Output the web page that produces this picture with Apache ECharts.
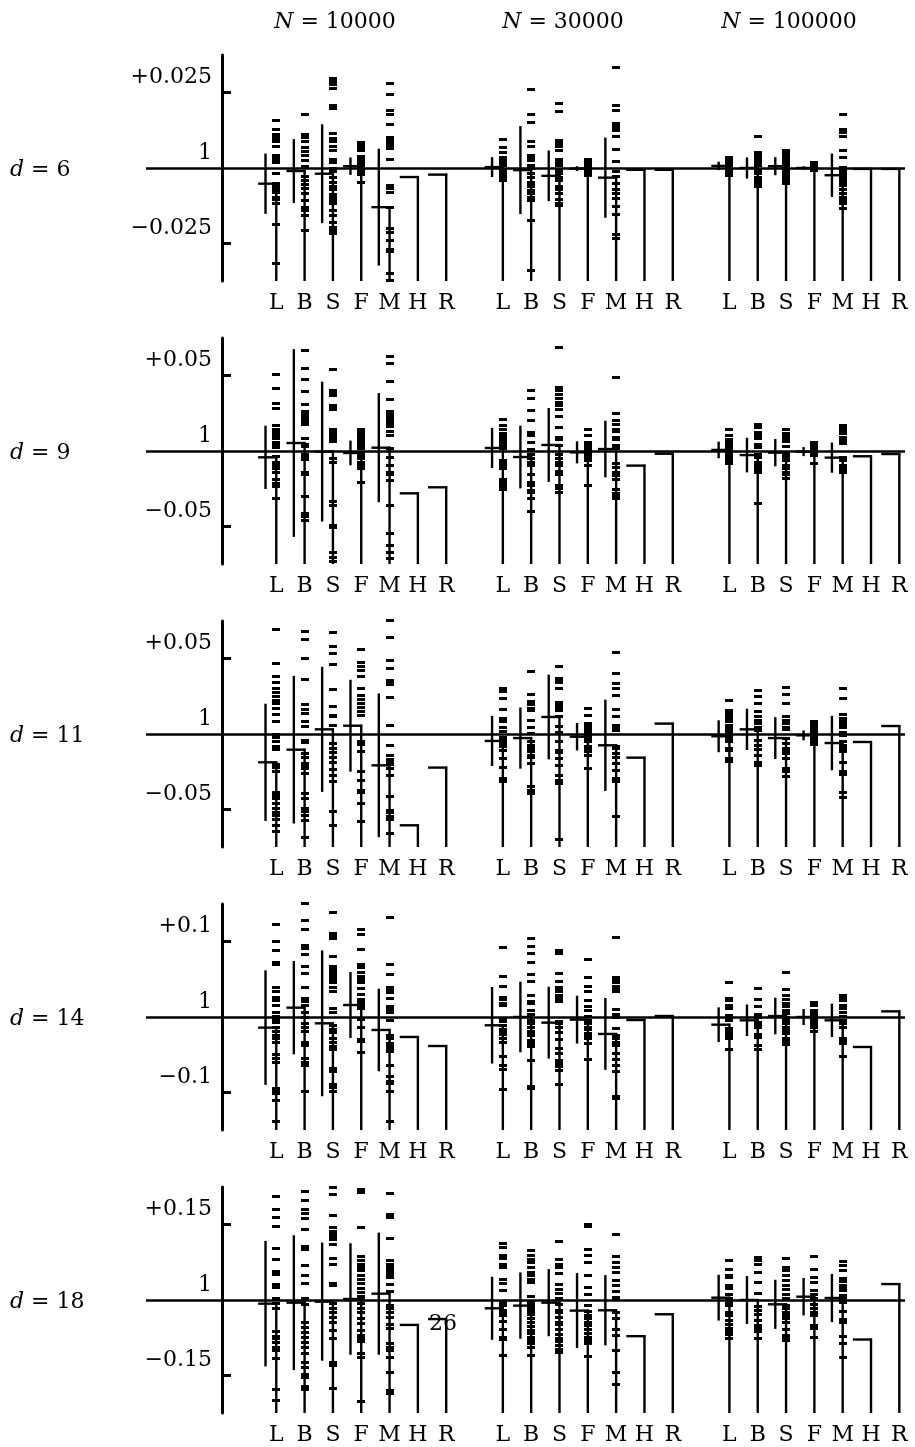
<!DOCTYPE html>
<html>
<head>
<meta charset="utf-8">
<script src="https://cdn.jsdelivr.net/npm/echarts@6/dist/echarts.min.js"></script>
<style>
  html, body { margin: 0; padding: 0; background: #fff; }
  #chart { width: 915px; height: 1447px; }
</style>
</head>
<body>
<div id="chart"></div>
<script>
// methods along each group, sample sizes (column groups), dimensions (rows)
const METHODS = ['L', 'B', 'S', 'F', 'M', 'H', 'R'];
const SAMPLE_SIZES = ['10000', '30000', '100000'];
const DIMS = [6, 9, 11, 14, 18];
const TICK_STEP = [0.025, 0.05, 0.05, 0.1, 0.15];
const TICK_TEXT = ['0.025', '0.05', '0.05', '0.1', '0.15'];

// mean / error half-width per group (N) and method, one block per d
const mean6 = [
  [-0.0052, -0.001, -0.0019, 0.0006, -0.013, -0.003, -0.0022],
  [0.0003, -0.0007, -0.0026, -0.0002, -0.0032, -0.0006, -0.0006],
  [0.0007, 0, 0.0006, 0, -0.0024, -0.0003, -0.0003]
];
const err6 = [
  [0.01, 0.0106, 0.0164, 0.0029, 0.0194, 0, 0],
  [0.0033, 0.0146, 0.0084, 0.0008, 0.0133, 0, 0],
  [0.0014, 0.0035, 0.003, 0.0006, 0.0072, 0, 0]
];
const pts6 = [
  [
    [0.0159, 0.0128, 0.0111, 0.0103, 0.0094, 0.0087, 0.0072, 0.0042, 0.0034, 0.0026, 0.0018, -0.0019, -0.005, -0.0063, -0.0072, -0.008, -0.0097, -0.0105, -0.0119, -0.0189, -0.0317],
    [0.0179, 0.0111, 0.01, 0.0087, 0.0068, 0.0056, 0.0042, 0.0026, 0.0006, -0.0028, -0.0041, -0.0054, -0.0069, -0.0083, -0.0108, -0.013, -0.0141, -0.0158, -0.0208],
    [0.0298, 0.0287, 0.0276, 0.0264, 0.0209, 0.0196, 0.0114, 0.0098, 0.0087, 0.0072, 0.0059, 0.0028, 0.0017, 0, -0.001, -0.003, -0.0047, -0.0061, -0.0072, -0.0088, -0.0097, -0.0108, -0.0119, -0.0141, -0.0158, -0.018, -0.0197, -0.0208, -0.0219],
    [0.0083, 0.0076, 0.0068, 0.0059, 0.0037, 0.0028, 0.002, 0.0012, 0.0003, -0.0006, -0.0013, -0.0021, -0.0047],
    [0.0281, 0.0244, 0.0192, 0.0179, 0.0144, 0.0101, 0.0092, 0.0083, 0.0076, 0.0064, 0.0028, -0.0058, -0.0069, -0.008, -0.013, -0.0202, -0.0213, -0.0239, -0.0269, -0.0277, -0.035, -0.0372],
    [], []
  ],
  [
    [0.0096, 0.0068, 0.0053, 0.0034, 0.0026, 0.0017, 0.0009, -0.0008, -0.0017, -0.0024, -0.0032, -0.0041],
    [0.0262, 0.0176, 0.0151, 0.0087, 0.007, 0.0042, 0.0034, 0.0026, 0.0009, -0.0002, -0.0019, -0.0032, -0.0047, -0.0054, -0.0063, -0.0074, -0.0086, -0.0097, -0.0108, -0.0174, -0.0341],
    [0.0214, 0.0187, 0.009, 0.0081, 0.0072, 0.0059, 0.0028, 0.0017, 0.0009, -0.0008, -0.0019, -0.003, -0.0041, -0.0063, -0.0072, -0.0083, -0.0106, -0.0119, -0.0124],
    [0.0028, 0.002, 0.0012, 0.0003, -0.0008, -0.0017, -0.0024],
    [0.0334, 0.0207, 0.019, 0.0148, 0.0139, 0.0131, 0.0123, 0.0103, 0.0061, 0.002, -0.001, -0.0028, -0.005, -0.0072, -0.0086, -0.0102, -0.0128, -0.0154, -0.0221, -0.0235],
    [], []
  ],
  [
    [0.0034, 0.0026, 0.0017, 0.0009, 0, -0.0008, -0.0017, -0.0024],
    [0.0103, 0.0053, 0.0042, 0.0034, 0.0026, 0.0017, 0.0009, -0.0008, -0.0017, -0.0032, -0.0041, -0.005, -0.0061],
    [0.0057, 0.0048, 0.0039, 0.0031, 0.0023, 0.0014, 0.0006, -0.0002, -0.001, -0.0019, -0.0028, -0.0036, -0.0043, -0.0052],
    [0.0017, 0.0009, 0, -0.0008],
    [0.0176, 0.0128, 0.0117, 0.0103, 0.0059, 0.0034, 0.0003, -0.0008, -0.0017, -0.0024, -0.0032, -0.0041, -0.005, -0.0058, -0.0072, -0.0086, -0.0097, -0.0108, -0.0119, -0.0136],
    [], []
  ]
];

const mean9 = [
  [-0.0042, 0.0053, -0.0004, -0.0013, 0.0022, -0.0281, -0.0241],
  [0.002, -0.004, 0.004, -0.0009, 0.0013, -0.0097, -0.0018],
  [0.0007, -0.0027, -0.0011, -0.0004, -0.0044, -0.0035, -0.002]
];
const err9 = [
  [0.021, 0.0623, 0.0464, 0.0082, 0.0362, 0, 0],
  [0.0133, 0.0208, 0.0245, 0.0073, 0.0188, 0, 0],
  [0.0055, 0.0115, 0.0091, 0.003, 0.01, 0, 0]
];
const pts9 = [
  [
    [0.0506, 0.0418, 0.0312, 0.0285, 0.0168, 0.0146, 0.0128, 0.0113, 0.0097, 0.008, 0.0057, 0.004, 0.0022, -0.0035, -0.0075, -0.0097, -0.0119, -0.0141, -0.0186, -0.0219, -0.0234, -0.0314],
    [0.0665, 0.0548, 0.0473, 0.0396, 0.0307, 0.0261, 0.0245, 0.023, 0.0212, 0.0197, 0.0179, 0.008, 0.0046, 0.0031, -0.002, -0.0042, -0.0057, -0.0141, -0.0157, -0.0301, -0.0418, -0.0433, -0.0462],
    [0.0544, 0.0404, 0.0389, 0.0371, 0.0305, 0.029, 0.0274, 0.0141, 0.0124, 0.0106, 0.008, 0.0062, -0.0053, -0.0075, -0.0336, -0.0362, -0.0495, -0.0506, -0.0672, -0.0705, -0.0734],
    [0.0141, 0.0124, 0.0106, 0.0088, 0.0071, 0.0053, 0.0035, 0.0018, -0.0018, -0.0035, -0.0053, -0.0075, -0.0097, -0.0119, -0.0208],
    [0.0628, 0.0583, 0.046, 0.034, 0.0261, 0.0245, 0.023, 0.0212, 0.0197, 0.0179, 0.0164, 0.0128, 0.0102, 0.0018, -0.0042, -0.0097, -0.0141, -0.0159, -0.0197, -0.0362, -0.055, -0.0628, -0.0672, -0.0716],
    [], []
  ],
  [
    [0.0212, 0.0168, 0.0141, 0.0119, 0.0097, 0.0075, 0.0057, 0.0035, 0.0018, -0.0064, -0.008, -0.0097, -0.0119, -0.0186, -0.0208, -0.0225, -0.0241, -0.0256],
    [0.0404, 0.0351, 0.0267, 0.0201, 0.0124, 0.0102, 0.0057, 0.0009, -0.002, -0.0053, -0.0075, -0.0097, -0.0159, -0.0208, -0.023, -0.0263, -0.0274, -0.0318, -0.04],
    [0.0687, 0.0422, 0.04, 0.0378, 0.0349, 0.0323, 0.0301, 0.0278, 0.0228, 0.0157, 0.0091, 0.0075, 0.0035, -0.002, -0.0049, -0.0075, -0.0097, -0.0137, -0.0159, -0.023, -0.0252, -0.0274],
    [0.0141, 0.0106, 0.0057, 0.004, 0.0022, 0.0004, -0.0013, -0.0031, -0.0049, -0.0064, -0.0093, -0.023],
    [0.0488, 0.025, 0.0201, 0.0179, 0.0146, 0.0128, 0.0091, 0.0075, 0.0035, 0.0018, -0.0086, -0.0108, -0.0141, -0.0164, -0.0186, -0.0256, -0.0285, -0.0301, -0.0318],
    [], []
  ],
  [
    [0.0146, 0.0102, 0.0075, 0.0057, 0.004, 0.0022, 0.0004, -0.0013, -0.0031, -0.0049, -0.0064, -0.008],
    [0.0175, 0.0157, 0.0124, 0.0102, 0.008, 0.0046, 0.0024, -0.002, -0.0042, -0.0075, -0.0093, -0.0108, -0.0124, -0.0141, -0.0347],
    [0.0146, 0.0113, 0.0097, 0.008, 0.0062, 0.0031, -0.0009, -0.0031, -0.0053, -0.0064, -0.0097, -0.0119, -0.0141, -0.0159, -0.0181],
    [0.0057, 0.004, 0.0022, 0.0004, -0.0013, -0.0031, -0.008],
    [0.0168, 0.015, 0.0135, 0.0113, 0.0091, 0.0069, 0.0053, -0.0042, -0.0064, -0.0097, -0.0115, -0.013, -0.0146],
    [], []
  ]
];

const mean11 = [
  [-0.0188, -0.0104, 0.0031, 0.0055, -0.0208, -0.0606, -0.0223],
  [-0.0046, -0.0027, 0.0113, -0.0018, -0.0075, -0.0157, 0.0069],
  [-0.0015, 0.0031, -0.0027, -0.0009, -0.006, -0.0053, 0.0053]
];
const err11 = [
  [0.0389, 0.049, 0.0415, 0.0305, 0.0477, 0, 0],
  [0.0166, 0.0203, 0.0281, 0.0091, 0.0303, 0, 0],
  [0.0106, 0.0137, 0.0139, 0.0033, 0.0181, 0, 0]
];
const pts11 = [
  [
    [0.0694, 0.0466, 0.0382, 0.034, 0.0305, 0.0278, 0.0252, 0.0223, 0.0201, 0.0172, 0.0128, 0.008, -0.0004, -0.002, -0.0053, -0.008, -0.0102, -0.0203, -0.0225, -0.0248, -0.0389, -0.0407, -0.0429, -0.0462, -0.0495, -0.0522, -0.0544, -0.0566, -0.0606, -0.065],
    [0.0681, 0.0628, 0.0499, 0.036, 0.0194, 0.0164, 0.0135, 0.008, 0.0053, -0.0042, -0.0057, -0.013, -0.0159, -0.0197, -0.0212, -0.023, -0.0263, -0.0396, -0.0429, -0.0495, -0.0517, -0.0544, -0.0572, -0.069],
    [0.0672, 0.0583, 0.0533, 0.046, 0.0294, 0.0183, 0.0124, 0.0113, 0.0057, -0.0064, -0.0097, -0.0124, -0.0159, -0.019, -0.0234, -0.0274, -0.0314, -0.0517, -0.0606],
    [0.0561, 0.0473, 0.0451, 0.0422, 0.0382, 0.0305, 0.0256, 0.023, 0.0201, 0.0179, 0.015, 0.0124, -0.0053, -0.0071, -0.0119, -0.0248, -0.0307, -0.0373, -0.0385, -0.0462, -0.0583],
    [0.0754, 0.0639, 0.0488, 0.0433, 0.0356, 0.034, 0.0327, 0.0245, 0.0057, -0.0075, -0.0141, -0.0168, -0.019, -0.0203, -0.023, -0.0274, -0.0418, -0.0506, -0.0522, -0.055, -0.0566, -0.0661],
    [], []
  ],
  [
    [0.0301, 0.0283, 0.0234, 0.0161, 0.0102, 0.008, 0.0046, 0.0018, -0.002, -0.0042, -0.0064, -0.0086, -0.0108, -0.0164, -0.0225, -0.0296, -0.0314],
    [0.0415, 0.0261, 0.0217, 0.0194, 0.0172, 0.0157, 0.0091, 0.0046, 0.0002, -0.0053, -0.0075, -0.0097, -0.0119, -0.0141, -0.0159, -0.0197, -0.0351, -0.0373, -0.0396],
    [0.0449, 0.0371, 0.0356, 0.034, 0.0305, 0.0208, 0.019, 0.0172, 0.0157, 0.0113, 0.0053, 0.0013, -0.0049, -0.0108, -0.0124, -0.0164, -0.0212, -0.0278, -0.0307, -0.0329, -0.0698],
    [0.0172, 0.0124, 0.0069, 0.0053, 0.0035, 0.0018, -0.0004, -0.002, -0.0038, -0.0053, -0.008, -0.0097, -0.0115, -0.0146, -0.023],
    [0.0544, 0.04, 0.0334, 0.0301, 0.0256, 0.0164, 0.0119, 0.0057, 0.004, 0.0022, -0.008, -0.0097, -0.013, -0.0159, -0.0197, -0.0241, -0.0296, -0.0318, -0.055],
    [], []
  ],
  [
    [0.0223, 0.0157, 0.0141, 0.0124, 0.0106, 0.0084, 0.0057, 0.0035, 0.0018, -0.0004, -0.002, -0.0035, -0.0053, -0.0093, -0.0108, -0.0164, -0.0181],
    [0.029, 0.0252, 0.0201, 0.015, 0.0113, 0.0091, 0.0069, 0.004, 0.0024, -0.0042, -0.0075, -0.0102, -0.0146, -0.019, -0.0212],
    [0.0307, 0.0261, 0.0201, 0.0119, 0.0091, 0.0069, 0.0046, 0.0031, -0.0031, -0.0064, -0.0097, -0.0115, -0.013, -0.0164, -0.023, -0.0248, -0.0285],
    [0.008, 0.0062, 0.0046, 0.0031, 0.0013, -0.0004, -0.002, -0.0035, -0.0053, -0.0071],
    [0.0301, 0.0234, 0.0128, 0.0106, 0.008, 0.0062, 0.0044, 0.0013, -0.0013, -0.0053, -0.0075, -0.0097, -0.0115, -0.0186, -0.0252, -0.027, -0.0385, -0.0424],
    [], []
  ]
];

const mean14 = [
  [-0.0141, 0.0124, -0.0084, 0.0159, -0.0172, -0.0265, -0.0385],
  [-0.011, 0, -0.0075, -0.0035, -0.0225, -0.004, 0.0013],
  [-0.0102, -0.0044, 0.0013, 0, -0.0044, -0.0398, 0.0075]
];
const err14 = [
  [0.076, 0.0619, 0.0968, 0.0438, 0.0548, 0, 0],
  [0.0508, 0.0469, 0.0477, 0.0318, 0.0477, 0, 0],
  [0.023, 0.021, 0.0243, 0.0106, 0.0221, 0, 0]
];
const pts14 = [
  [
    [0.1224, 0.1003, 0.0884, 0.072, 0.0694, 0.0385, 0.0332, 0.0265, 0.0221, 0.0155, 0.0066, 0.0013, -0.0031, -0.0075, -0.0146, -0.0199, -0.0243, -0.0287, -0.034, -0.0499, -0.0553, -0.0606, -0.095, -0.0986, -0.1017, -0.1105, -0.1383],
    [0.1503, 0.1282, 0.1162, 0.095, 0.0915, 0.0827, 0.0676, 0.0575, 0.0398, 0.0243, 0.0208, 0.0155, 0.0057, -0.0013, -0.0088, -0.0146, -0.019, -0.034, -0.0376, -0.0553, -0.0606, -0.0641, -0.0995],
    [0.1383, 0.1105, 0.1074, 0.1039, 0.0809, 0.0676, 0.0641, 0.0606, 0.0575, 0.0544, 0.05, 0.0464, 0.0398, 0.034, 0.0119, 0.0057, -0.0119, -0.0164, -0.0208, -0.0279, -0.034, -0.0385, -0.0429, -0.0685, -0.0729, -0.0897, -0.0941, -0.0986],
    [0.1162, 0.1092, 0.0897, 0.0694, 0.0663, 0.0597, 0.0544, 0.05, 0.0455, 0.0376, 0.0296, 0.0234, 0.0199, 0.0155, 0.0119, -0.0031, -0.0133, -0.0296, -0.0323, -0.0473],
    [0.1326, 0.0694, 0.0561, 0.0398, 0.0354, 0.0323, 0.0243, 0.0133, 0.0102, 0.0066, -0.0044, -0.0243, -0.0287, -0.0354, -0.0385, -0.042, -0.0455, -0.065, -0.0796, -0.0853, -0.0884, -0.0995, -0.1392],
    [], []
  ],
  [
    [0.0928, 0.0544, 0.0411, 0.0265, 0.0234, 0.0177, 0.0155, -0.0022, -0.0057, -0.011, -0.0164, -0.0199, -0.0234, -0.0287, -0.0332, -0.053, -0.065, -0.0694, -0.0964],
    [0.1039, 0.0941, 0.084, 0.072, 0.0561, 0.0473, 0.0287, 0.0208, 0.0177, 0.0088, 0.0031, -0.0044, -0.0088, -0.0133, -0.019, -0.0221, -0.0252, -0.0309, -0.0354, -0.0385, -0.0575, -0.0928, -0.095],
    [0.0884, 0.084, 0.0583, 0.0473, 0.0398, 0.0367, 0.0332, 0.0287, 0.0252, 0.0208, -0.0057, -0.0088, -0.0133, -0.0208, -0.0296, -0.042, -0.0486, -0.0575, -0.0619, -0.0663, -0.0707, -0.0897],
    [0.076, 0.053, 0.0411, 0.034, 0.0221, 0.0133, 0.0088, 0.0013, -0.0044, -0.0088, -0.0133, -0.0164, -0.0221, -0.0252, -0.0287, -0.0354, -0.0561],
    [0.1052, 0.053, 0.0499, 0.0464, 0.0411, 0.0367, 0.0332, 0.0102, 0.0031, -0.0013, -0.0155, -0.0243, -0.0287, -0.034, -0.0376, -0.0486, -0.0561, -0.0641, -0.0729, -0.1061, -0.1083],
    [], []
  ],
  [
    [0.0455, 0.0252, 0.0221, 0.0155, 0.0119, 0.0022, -0.0013, -0.0044, -0.0155, -0.019, -0.0221, -0.0252, -0.0287, -0.0429],
    [0.0376, 0.023, 0.0133, 0.0031, -0.0013, -0.0075, -0.011, -0.0146, -0.0234, -0.0278, -0.0376, -0.0429],
    [0.0597, 0.0367, 0.0287, 0.0234, 0.0177, 0.0133, 0.0088, 0.0044, 0, -0.0044, -0.0088, -0.0133, -0.0177, -0.0221, -0.0287, -0.0323, -0.0367],
    [0.019, 0.0155, 0.0088, 0.0057, 0.0022, -0.0013, -0.0044, -0.0075, -0.011, -0.0146, -0.0199],
    [0.0287, 0.0252, 0.0221, 0.0155, 0.0119, 0.0066, 0.0013, -0.0044, -0.0088, -0.0133, -0.0287, -0.0323, -0.0354, -0.053],
    [], []
  ]
];

const mean18 = [
  [-0.0073, -0.0053, -0.0033, 0.002, 0.0126, -0.0496, -0.038],
  [-0.0165, -0.0112, -0.0053, -0.0211, -0.0205, -0.072, -0.0284],
  [0.0046, 0, -0.0086, 0.0066, 0.004, -0.0787, 0.0317]
];
const err18 = [
  [0.125, 0.1342, 0.1176, 0.111, 0.1216, 0, 0],
  [0.0628, 0.0661, 0.0668, 0.0747, 0.07, 0, 0],
  [0.0456, 0.0476, 0.0489, 0.0373, 0.048, 0, 0]
];
const pts18 = [
  [
    [0.2056, 0.1805, 0.1639, 0.1461, 0.1025, 0.0813, 0.0562, 0.0516, 0.0317, 0.0251, 0.0033, -0.0079, -0.0178, -0.0628, -0.072, -0.0773, -0.0839, -0.0938, -0.1005, -0.1157, -0.1778, -0.1996],
    [0.2168, 0.199, 0.1805, 0.1725, 0.1619, 0.1395, 0.1064, 0.0998, 0.0694, 0.0496, 0.0337, 0.0033, -0.0099, -0.0443, -0.0542, -0.0641, -0.074, -0.0839, -0.0938, -0.1071, -0.1236, -0.1335, -0.1487, -0.1553, -0.1732, -0.1778],
    [0.2234, 0.2102, 0.1686, 0.1441, 0.1355, 0.1309, 0.1262, 0.121, 0.111, 0.0826, 0.0714, 0.0337, 0.0284, -0.0079, -0.0178, -0.0245, -0.0344, -0.0443, -0.0608, -0.0773, -0.1236, -0.1302, -0.1765],
    [0.2201, 0.2135, 0.1441, 0.0866, 0.078, 0.0714, 0.0648, 0.0582, 0.0496, 0.0403, 0.0337, 0.0231, 0.0152, 0.0073, 0.0007, -0.0079, -0.0165, -0.0245, -0.0364, -0.0476, -0.0608, -0.0707, -0.0773, -0.0826, -0.1071, -0.1137, -0.2016],
    [0.2122, 0.1705, 0.1639, 0.1223, 0.078, 0.0714, 0.0668, 0.0615, 0.0562, 0.0516, 0.0449, 0.0317, 0.0165, -0.0112, -0.0178, -0.0245, -0.0344, -0.0496, -0.0562, -0.0873, -0.0939, -0.1005, -0.1137, -0.1448, -0.1798, -0.1864],
    [], []
  ],
  [
    [0.1124, 0.1044, 0.0892, 0.0826, 0.0714, 0.0648, 0.0416, 0.0337, 0.0185, -0.0046, -0.0112, -0.0211, -0.0258, -0.0311, -0.043, -0.0588, -0.074, -0.0787, -0.1104],
    [0.0978, 0.0879, 0.0813, 0.0747, 0.0648, 0.0549, 0.0483, 0.0403, 0.035, 0.0073, -0.0059, -0.0112, -0.0165, -0.0231, -0.0297, -0.0377, -0.0443, -0.0522, -0.0608, -0.0674, -0.074, -0.0806, -0.0873, -0.0939, -0.1104],
    [0.1157, 0.08, 0.0714, 0.0648, 0.0535, 0.0317, 0.0205, 0.0139, 0.002, -0.0099, -0.0211, -0.0258, -0.0344, -0.0443, -0.0496, -0.0588, -0.0694, -0.076, -0.082, -0.0906, -0.0985, -0.1038],
    [0.1507, 0.1461, 0.1011, 0.0879, 0.0747, 0.0496, 0.0251, 0.0119, -0.0112, -0.0231, -0.0311, -0.0364, -0.0443, -0.0509, -0.0588, -0.0674, -0.074, -0.0806, -0.0873, -0.1117],
    [0.1309, 0.0859, 0.0747, 0.0648, 0.0549, 0.0383, 0.0284, 0.0165, 0.0053, 0.0007, -0.0245, -0.0377, -0.0588, -0.0707, -0.1005, -0.1448, -0.1679],
    [], []
  ],
  [
    [0.078, 0.0602, 0.0496, 0.0449, 0.0297, 0.0231, 0.0119, 0.0033, -0.0059, -0.0112, -0.0258, -0.0311, -0.041, -0.0496, -0.0562, -0.0628, -0.0694, -0.0773],
    [0.0846, 0.078, 0.0714, 0.0549, 0.035, 0.0139, -0.0126, -0.0212, -0.0297, -0.041, -0.0509, -0.0575, -0.0628, -0.0773],
    [0.0833, 0.0648, 0.0582, 0.0496, 0.0383, 0.0284, 0.0205, 0.0119, 0.002, -0.0112, -0.0178, -0.0245, -0.0311, -0.0377, -0.0443, -0.0588, -0.0707, -0.076, -0.0806],
    [0.0866, 0.0602, 0.0449, 0.035, 0.0185, 0.0119, 0.0033, -0.0099, -0.0178, -0.0245, -0.0311, -0.0509, -0.0562, -0.0754],
    [0.076, 0.0681, 0.0582, 0.043, 0.0364, 0.0297, 0.0231, 0.0185, 0.0099, 0.0033, -0.0046, -0.0231, -0.039, -0.0456, -0.0721, -0.0873, -0.1137],
    [], []
  ]
];

const MEANS = [mean6, mean9, mean11, mean14, mean18];
const ERRS = [err6, err9, err11, err14, err18];
const PTS = [pts6, pts9, pts11, pts14, pts18];

// ---- layout ----
const FONT = 'DejaVu Serif';
const FS = 22;
const ROW_TOP = 55, ROW_STEP = 283, ROW_H = 226;
const GROUP_GAP = 8;               // x units between the first method of each group
const xOf = (g, k) => g * GROUP_GAP + k;
const xTicks = [];
SAMPLE_SIZES.forEach((s, g) => METHODS.forEach((m, k) => xTicks.push(xOf(g, k))));

function renderStem(params, api) {
  const x = api.value(0), m = api.value(1), e = api.value(2);
  const cs = params.coordSys;
  const bottom = cs.y + cs.height;
  const p = api.coord([x, m]);
  const left = api.coord([x - 0.64, m]);
  const st = { stroke: '#000', lineWidth: 2.4 };
  const children = [
    { type: 'line', shape: { x1: p[0], y1: bottom, x2: p[0], y2: p[1] - 1 }, style: st },
    { type: 'line', shape: { x1: left[0], y1: p[1], x2: p[0] + 1, y2: p[1] }, style: st }
  ];
  if (e > 0) {
    const ex = api.coord([x - 0.38, m])[0];
    const top = api.coord([x, m + e])[1];
    const bot = api.coord([x, m - e])[1];
    children.push({ type: 'line', shape: { x1: ex, y1: top, x2: ex, y2: bot }, style: st });
  }
  return { type: 'group', children: children };
}

// short horizontal dash per sample, snapped to whole pixels so it stays solid black
function renderDash(params, api) {
  const p = api.coord([api.value(0), api.value(1)]);
  return {
    type: 'rect',
    shape: { x: Math.round(p[0] - 4), y: Math.round(p[1] - 1.5), width: 8, height: 3 },
    style: { fill: '#000' }
  };
}

const grids = [], xAxes = [], yAxes = [], series = [];
DIMS.forEach((d, r) => {
  const t = TICK_STEP[r];
  grids.push({ left: 146, right: 10, top: ROW_TOP + r * ROW_STEP, height: ROW_H });
  xAxes.push({
    gridIndex: r, type: 'value', min: -4.6, max: 22.2,
    axisLine: { show: false, onZero: false },
    axisTick: { show: false },
    splitLine: { show: false },
    axisLabel: {
      customValues: xTicks,
      formatter: v => METHODS[Math.round(v) % GROUP_GAP],
      margin: 11, color: '#000', fontFamily: FONT, fontSize: FS
    }
  });
  yAxes.push({
    gridIndex: r, type: 'value', min: -1.5 * t, max: 1.5 * t, offset: -76,
    axisLine: { show: true, onZero: false, lineStyle: { color: '#000', width: 3 } },
    axisTick: { show: true, inside: true, length: 9, customValues: [-t, t], lineStyle: { color: '#000', width: 3 } },
    splitLine: { show: false },
    axisLabel: {
      customValues: [-t, 0, t],
      formatter: v => Math.abs(v) < 1e-9 ? '1' : (v > 0 ? '+' : '\u2212') + TICK_TEXT[r],
      verticalAlign: 'bottom', padding: [0, 0, 4, 0], margin: 10,
      color: '#000', fontFamily: FONT, fontSize: FS
    }
  });

  const stems = [], dashes = [];
  SAMPLE_SIZES.forEach((s, g) => {
    METHODS.forEach((m, k) => {
      stems.push([xOf(g, k), MEANS[r][g][k], ERRS[r][g][k]]);
      PTS[r][g][k].forEach(v => dashes.push([xOf(g, k), v]));
    });
  });
  series.push({
    type: 'custom', xAxisIndex: r, yAxisIndex: r, data: dashes,
    renderItem: renderDash, encode: { x: 0, y: 1 },
    silent: true, animation: false,
    markLine: {
      silent: true, symbol: ['none', 'none'], label: { show: false },
      lineStyle: { color: '#000', width: 2.5, type: 'solid' },
      data: [{ yAxis: 0 }], animation: false
    }
  });
  series.push({
    type: 'custom', xAxisIndex: r, yAxisIndex: r, data: stems,
    renderItem: renderStem, encode: { x: 0, y: 1 },
    silent: true, animation: false
  });
});

const TITLE_X = [335, 563, 789];
const graphics = [];
SAMPLE_SIZES.forEach((s, g) => graphics.push({
  type: 'text', x: TITLE_X[g], y: 22,
  style: {
    text: '{i|N} = ' + s, fontFamily: FONT, fontSize: FS, fill: '#000',
    align: 'center', verticalAlign: 'middle',
    rich: { i: { fontStyle: 'italic', fontFamily: FONT, fontSize: FS } }
  }
}));
DIMS.forEach((d, r) => graphics.push({
  type: 'text', x: 10, y: ROW_TOP + r * ROW_STEP + ROW_H / 2 + 2,
  style: {
    text: '{i|d} = ' + d, fontFamily: FONT, fontSize: FS, fill: '#000',
    align: 'left', verticalAlign: 'middle',
    rich: { i: { fontStyle: 'italic', fontFamily: FONT, fontSize: FS } }
  }
}));
// page number of the source document
graphics.push({
  type: 'text', x: 443, y: 1324,
  style: { text: '26', fontFamily: FONT, fontSize: FS, fill: '#000', align: 'center', verticalAlign: 'middle' }
});

const chart = echarts.init(document.getElementById('chart'), null, { renderer: 'canvas' });
chart.setOption({
  backgroundColor: '#fff',
  animation: false,
  grid: grids,
  xAxis: xAxes,
  yAxis: yAxes,
  series: series,
  graphic: graphics
});
</script>
</body>
</html>
